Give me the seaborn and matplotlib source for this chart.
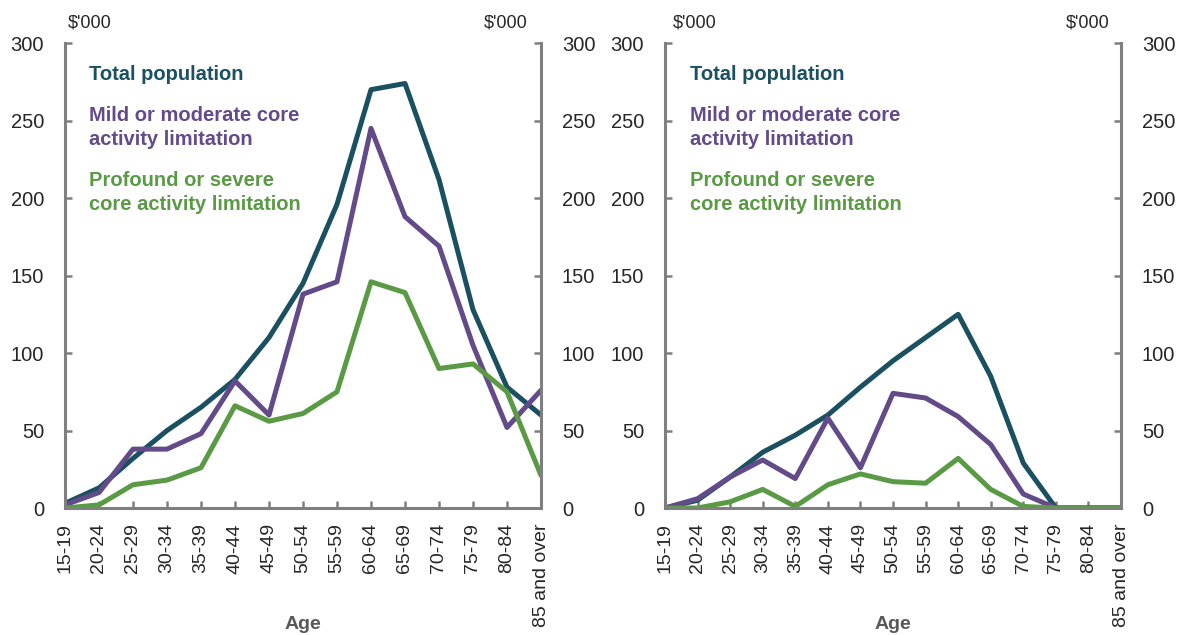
import pandas as pd
import numpy as np
import matplotlib
matplotlib.use('Agg')
import matplotlib.pyplot as plt
import seaborn as sns

# 연령 구간
ages = ['15-19', '20-24', '25-29', '30-34', '35-39', '40-44', '45-49', '50-54',
        '55-59', '60-64', '65-69', '70-74', '75-79', '80-84', '85 and over']

# 왼쪽 패널 ($'000)
left_total = [3, 13, 32, 50, 65, 83, 110, 145, 196, 270, 274, 212, 128, 78, 60]
left_mild = [2, 10, 38, 38, 48, 82, 60, 138, 146, 245, 188, 169, 105, 52, 76]
left_profound = [0, 2, 15, 18, 26, 66, 56, 61, 75, 146, 139, 90, 93, 75, 21]

# 오른쪽 패널 ($'000)
right_total = [0, 5, 20, 36, 47, 60, 78, 95, 110, 125, 85, 29, 0, 0, 0]
right_mild = [0, 6, 20, 31, 19, 58, 26, 74, 71, 59, 41, 9, 0, 0, 0]
right_profound = [0, 0, 4, 12, 1, 15, 22, 17, 16, 32, 12, 1, 0, 0, 0]

series_names = ['Total population',
                'Mild or moderate core\nactivity limitation',
                'Profound or severe\ncore activity limitation']
colors = ['#1a5060', '#624b88', '#5a9a45']
y_ticks = [0, 50, 100, 150, 200, 250, 300]


def to_long(total, mild, profound):
    frames = []
    for name, vals in zip(series_names, [total, mild, profound]):
        frames.append(pd.DataFrame({'age': ages, 'value': vals, 'series': name}))
    return pd.concat(frames, ignore_index=True)


sns.set_style('white')
plt.rcParams['font.family'] = ['Liberation Sans', 'DejaVu Sans']

fig = plt.figure(figsize=(11.84, 6.35), dpi=100)
ax1 = fig.add_axes([65 / 1184, 0.2, 476 / 1184, 0.732])
ax2 = fig.add_axes([665 / 1184, 0.2, 456 / 1184, 0.732])

gray = '#7f7f7f'
text_col = '#262626'

for ax, data, tx in [(ax1, to_long(left_total, left_mild, left_profound), 0.05),
                     (ax2, to_long(right_total, right_mild, right_profound), 0.055)]:
    sns.lineplot(data=data, x='age', y='value', hue='series', palette=colors,
                 linewidth=3.6, legend=False, sort=False, ax=ax)
    ax.set_xlim(0, len(ages) - 1)
    ax.set_ylim(0, 300)
    ax.set_yticks(y_ticks)
    ax.set_xticks(range(len(ages)))
    ax.set_xticklabels(ages, rotation=90, fontsize=14, color=text_col)
    ax.tick_params(axis='y', left=True, right=True, labelleft=True, labelright=True,
                   direction='in', length=5, width=1.8, color=gray,
                   labelsize=14.5, labelcolor=text_col, pad=15)
    ax.tick_params(axis='x', direction='in', length=5, width=1.8, color=gray,
                   pad=11, bottom=True)
    ax.spines['top'].set_visible(False)
    for s in ['left', 'right', 'bottom']:
        ax.spines[s].set_color(gray)
        ax.spines[s].set_linewidth(2.2)
    ax.set_ylabel('')
    ax.set_xlabel('Age', fontsize=14, color='#595959', fontweight='bold')
    ax.xaxis.set_label_coords(0.5, -0.232)
    ax.text(tx, 0.952, series_names[0], transform=ax.transAxes, fontsize=14.5,
            fontweight='bold', color=colors[0], va='top')
    ax.text(tx, 0.865, series_names[1], transform=ax.transAxes, fontsize=14.5,
            fontweight='bold', color=colors[1], va='top', linespacing=1.32)
    ax.text(tx, 0.725, series_names[2], transform=ax.transAxes, fontsize=14.5,
            fontweight='bold', color=colors[2], va='top', linespacing=1.32)

# 단위 표시
for x, ha in [(68, 'left'), (528, 'right'), (673, 'left'), (1110, 'right')]:
    fig.text(x / 1184, 1 - 23 / 635, "$'000", fontsize=13, color=text_col,
             ha=ha, va='center')

fig.savefig('out.png', dpi=100)
